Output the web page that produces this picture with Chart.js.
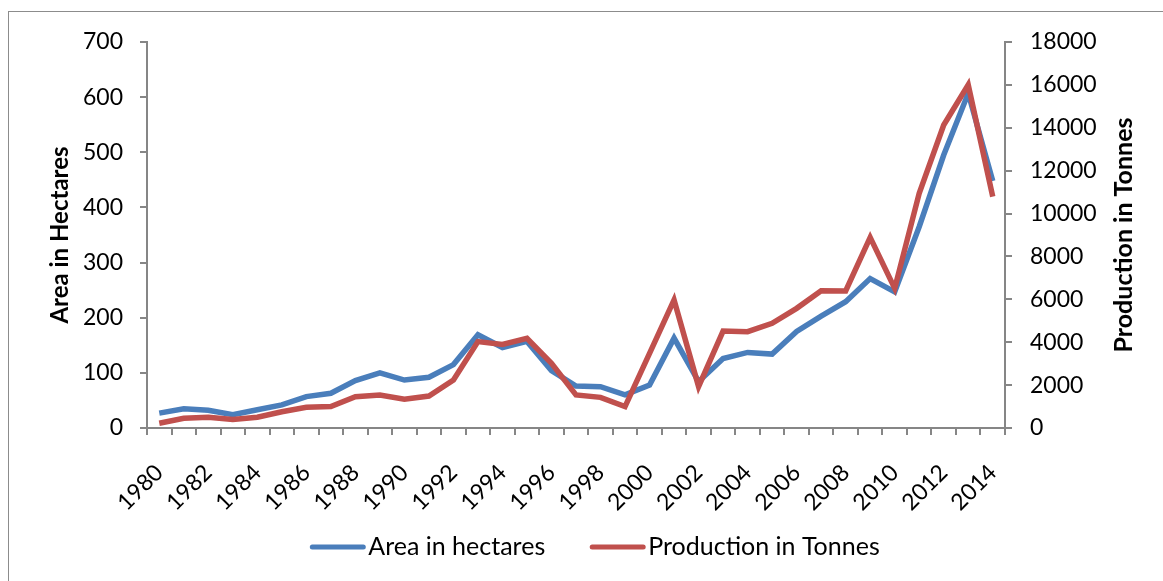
<!DOCTYPE html>
<html>
<head>
<meta charset="utf-8">
<script src="https://cdn.jsdelivr.net/npm/chart.js@4"></script>
<style>
  html, body { margin: 0; padding: 0; background: #fff; }
  #wrap { position: relative; width: 1163px; height: 581px; }
</style>
</head>
<body>
<div id="wrap"><canvas id="chart" width="1163" height="581"></canvas></div>
<script>
// Data
const years = [1980, 1981, 1982, 1983, 1984, 1985, 1986, 1987, 1988, 1989,
  1990, 1991, 1992, 1993, 1994, 1995, 1996, 1997, 1998, 1999,
  2000, 2001, 2002, 2003, 2004, 2005, 2006, 2007, 2008, 2009,
  2010, 2011, 2012, 2013, 2014];

const areaHectares = [27, 35, 32, 24, 33, 42, 57, 63, 86, 100,
  87, 92, 115, 169, 146, 157, 104, 76, 75, 60,
  78, 163, 84, 126, 137, 134, 175, 203, 229, 271,
  247, 365, 495, 607, 448];

const productionTonnes = [220, 450, 500, 400, 500, 760, 970, 1000, 1460, 1540,
  1340, 1490, 2240, 4030, 3900, 4180, 3020, 1540, 1430, 1000,
  3480, 5970, 1930, 4520, 4490, 4880, 5580, 6400, 6390, 8890,
  6510, 10940, 14130, 16000, 10790];

const leftTicks = { min: 0, max: 700, step: 100 };
const rightTicks = { min: 0, max: 18000, step: 2000 };

const axisGrey = '#868686';
const tickFont = { family: 'Lato', size: 23 };
const titleFont = { family: 'Lato', size: 24, weight: 'bold' };

// Outer frame, right axis title (reads bottom to top) and legend
const decorPlugin = {
  id: 'decor',
  beforeDraw(chart) {
    const ctx = chart.ctx;
    ctx.save();
    ctx.strokeStyle = '#8c8c8c';
    ctx.lineWidth = 1;
    ctx.strokeRect(8.5, 11.5, 1200, 600);
    ctx.restore();
  },
  afterDraw(chart) {
    const ctx = chart.ctx;
    const area = chart.chartArea;
    ctx.save();
    // right title
    ctx.font = 'bold 25px Lato';
    ctx.fillStyle = '#000';
    ctx.textAlign = 'center';
    ctx.textBaseline = 'middle';
    ctx.translate(1124, (area.top + area.bottom) / 2);
    ctx.rotate(-Math.PI / 2);
    ctx.fillText('Production in Tonnes', 0, 0);
    ctx.restore();

    // legend
    ctx.save();
    ctx.font = '25px Lato';
    ctx.textBaseline = 'middle';
    const sample = 55, gapText = 3, gapItem = 45, y = 547;
    const items = chart.data.datasets.map(ds => ({ text: ds.label, color: ds.borderColor, w: ctx.measureText(ds.label).width }));
    const total = items.reduce((s, it) => s + sample + gapText + it.w, 0) + gapItem * (items.length - 1);
    let x = 595 - total / 2;
    items.forEach(it => {
      ctx.strokeStyle = it.color;
      ctx.lineWidth = 5;
      ctx.lineCap = 'round';
      ctx.beginPath();
      ctx.moveTo(x + 2, y);
      ctx.lineTo(x + sample - 2, y);
      ctx.stroke();
      ctx.fillStyle = '#000';
      ctx.textAlign = 'left';
      ctx.fillText(it.text, x + sample + gapText, y);
      x += sample + gapText + it.w + gapItem;
    });
    ctx.restore();
  }
};

new Chart(document.getElementById('chart'), {
  type: 'line',
  data: {
    labels: years.map(String),
    datasets: [
      {
        label: 'Area in hectares',
        data: areaHectares,
        yAxisID: 'yArea',
        borderColor: '#4a7ebb',
        backgroundColor: '#4a7ebb',
        borderWidth: 5.5,
        pointRadius: 0,
        tension: 0,
        order: 2
      },
      {
        label: 'Production in Tonnes',
        data: productionTonnes,
        yAxisID: 'yProd',
        borderColor: '#c0504d',
        backgroundColor: '#c0504d',
        borderWidth: 5.5,
        pointRadius: 0,
        tension: 0,
        order: 1
      }
    ]
  },
  options: {
    responsive: false,
    animation: false,
    layout: { padding: { top: 42, bottom: 0, left: 0, right: 0 } },
    plugins: {
      tooltip: { enabled: false },
      legend: { display: false }
    },
    scales: {
      x: {
        offset: true,
        grid: { display: true, drawOnChartArea: false, drawTicks: true, tickLength: 7, color: axisGrey, lineWidth: 2, offset: true },
        border: { display: true, color: axisGrey, width: 2 },
        ticks: {
          autoSkip: false,
          maxRotation: 45,
          minRotation: 45,
          padding: 24,
          color: '#000',
          font: tickFont,
          callback: (v, i) => (i % 2 === 0 ? String(years[i]) : '')
        },
        afterFit: s => { s.height = 153; }
      },
      yArea: {
        position: 'left',
        min: leftTicks.min,
        max: leftTicks.max,
        grid: { drawOnChartArea: false, drawTicks: true, tickLength: 7, color: axisGrey, lineWidth: 2 },
        border: { display: true, color: axisGrey, width: 2 },
        ticks: { stepSize: leftTicks.step, padding: 17, color: '#000', font: tickFont },
        title: { display: true, text: 'Area in Hectares', color: '#000', font: titleFont, padding: { top: 46, bottom: 0 } },
        afterFit: s => { s.width = 147; }
      },
      yProd: {
        position: 'right',
        min: rightTicks.min,
        max: rightTicks.max,
        grid: { drawOnChartArea: false, drawTicks: true, tickLength: 7, color: axisGrey, lineWidth: 2 },
        border: { display: true, color: axisGrey, width: 2 },
        ticks: { stepSize: rightTicks.step, padding: 18, color: '#000', font: tickFont, callback: v => String(v) },
        afterFit: s => { s.width = 158; }
      }
    }
  },
  plugins: [decorPlugin]
});
</script>
</body>
</html>
